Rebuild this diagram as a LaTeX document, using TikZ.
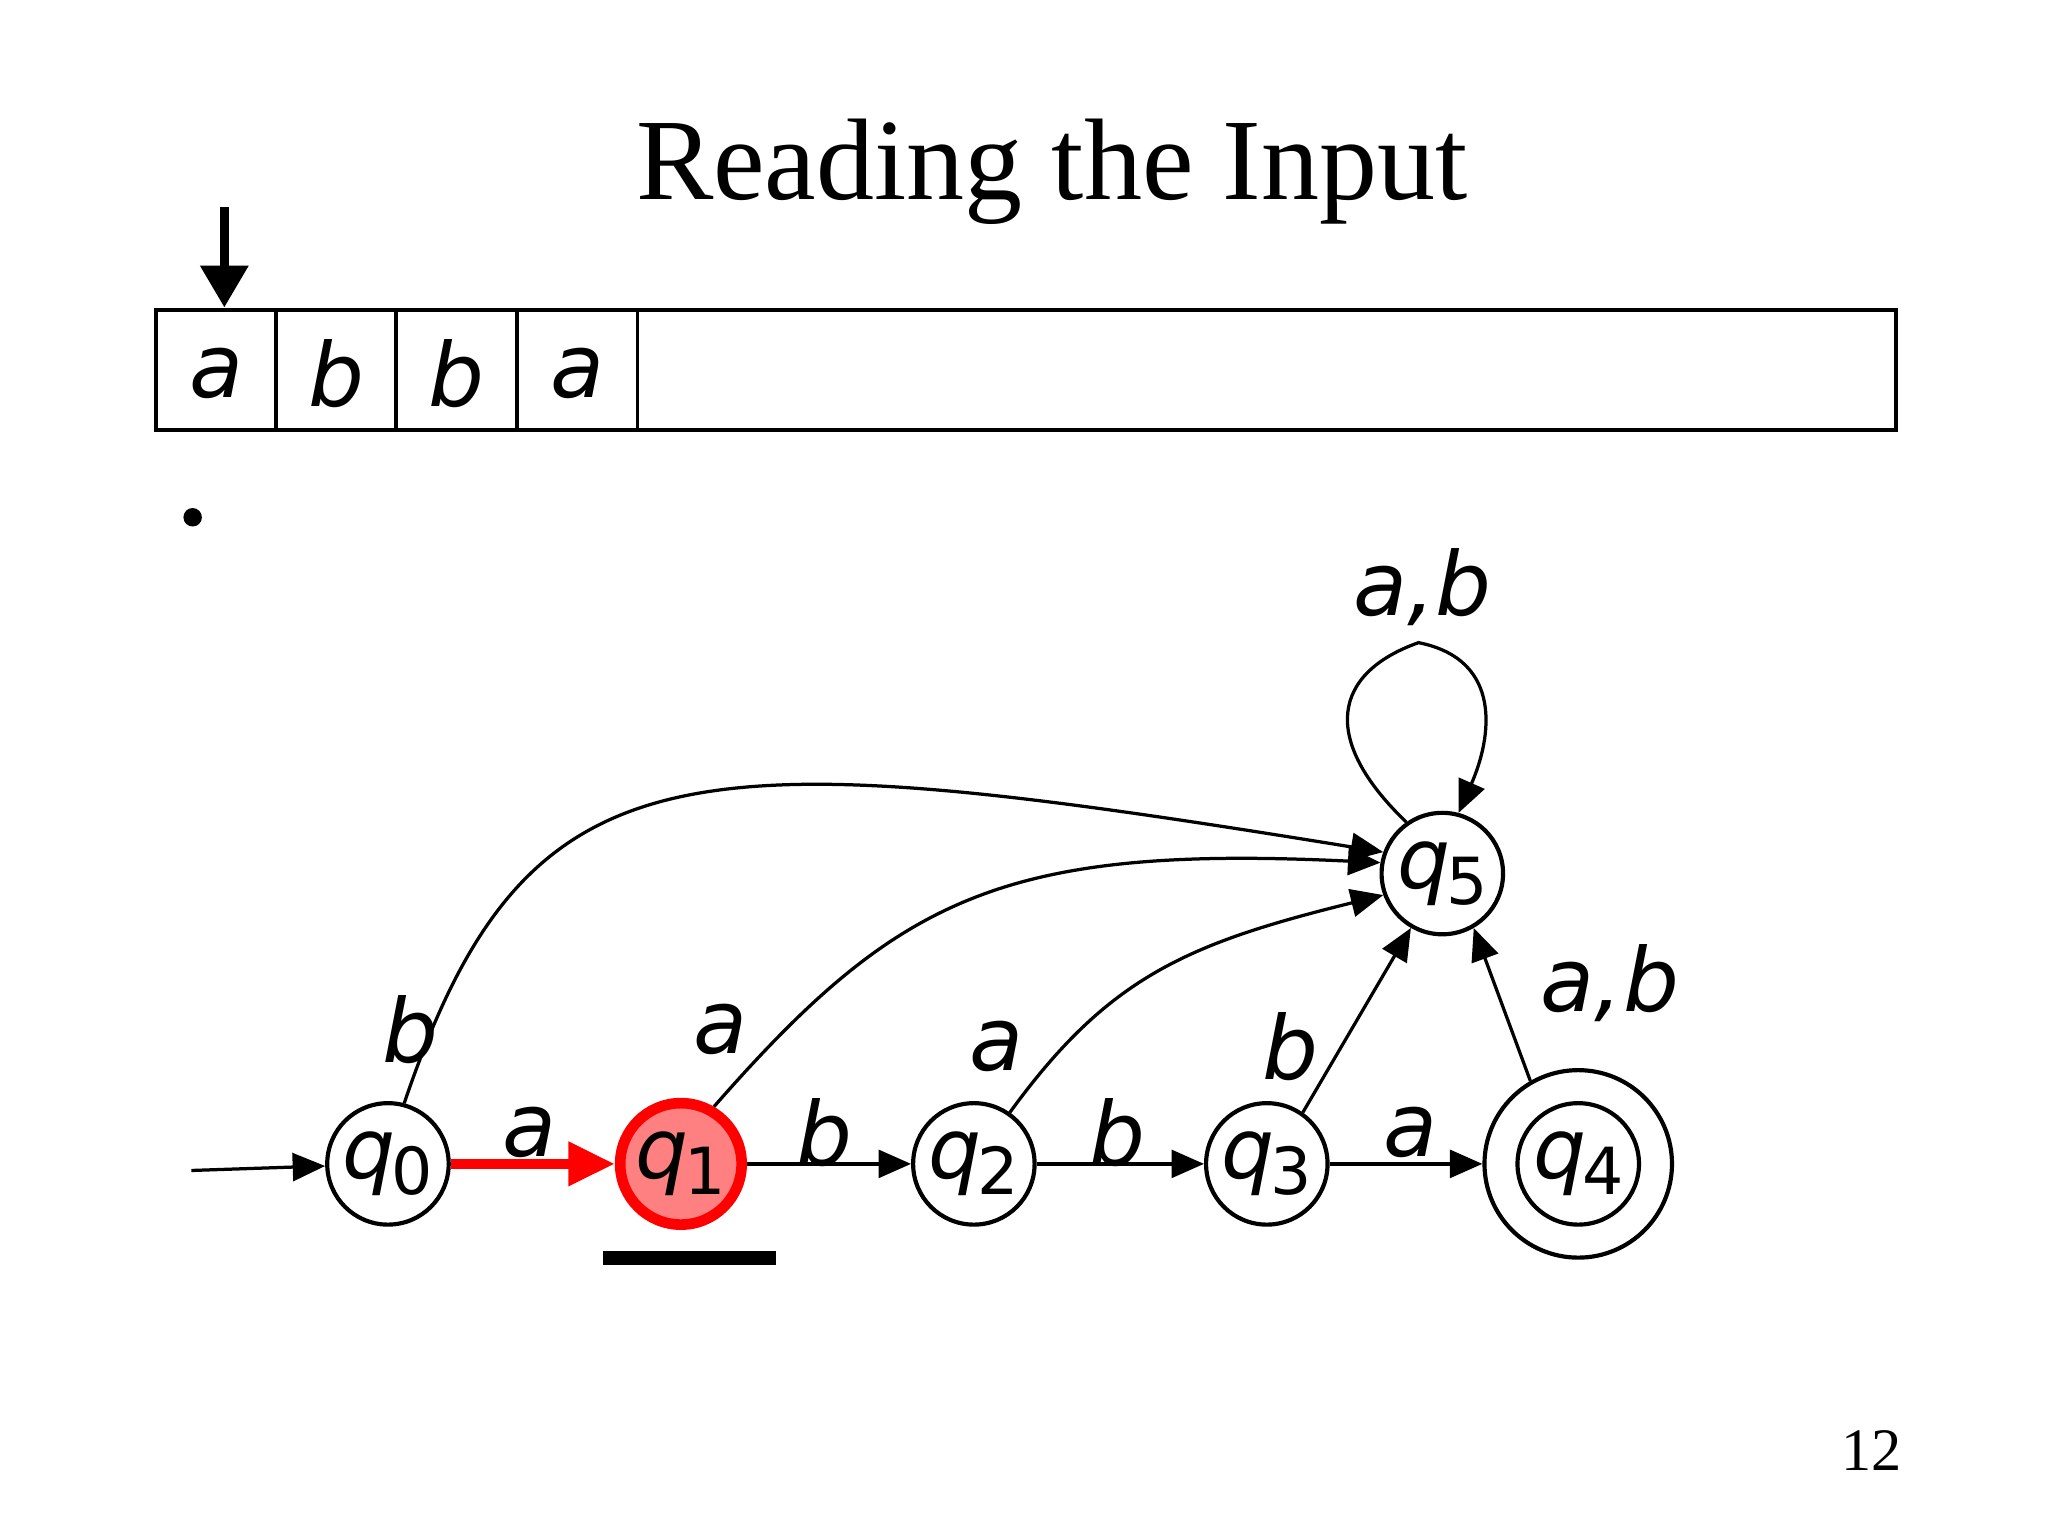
\documentclass[tikz,border=0pt]{standalone}
\usepackage{fontspec}
\setmainfont{Liberation Serif}
\newfontfamily\lblfont{DejaVu Sans}
\usetikzlibrary{arrows.meta}
\newcommand{\stl}[1]{q\kern-0.05em\raisebox{-0.35ex}{\fontsize{14}{16}\selectfont\upshape #1}}
\begin{document}
\begin{tikzpicture}[x=0.01cm,y=-0.01cm,
  lbl/.style={font=\lblfont\itshape\fontsize{19}{21}\selectfont},
  state/.style={circle,draw,line width=0.9pt,minimum size=0.92cm,inner sep=0pt,font=\lblfont\itshape\fontsize{18}{20}\selectfont},
  edge/.style={-{Triangle[length=7pt,width=6pt]},line width=0.7pt}]
\useasboundingbox (0,0) rectangle (1552,1164);
\node[font=\fontsize{25}{30}\selectfont] (title) at (797,130) {Reading the Input};
% tape
\draw[line width=0.8pt] (118,235) rectangle (1437,326);
\foreach \x in {209,300,392,483} \draw[line width=0.8pt] (\x,235) -- (\x,326);
\node[lbl] (t1) at (164,283) {a};
\node[lbl] (t2) at (255,283) {b};
\node[lbl] (t3) at (346,283) {b};
\node[lbl] (t4) at (438,283) {a};
\coordinate (hs) at (170,157);
\coordinate (he) at (170,233);
\draw[-{Triangle[length=9pt,width=10pt]},line width=1.8pt] (hs) -- (he);
\fill (146,392) circle (7);
% states
\node[state] (q0) at (294,882) {\stl{0}};
\node[state,draw=red,line width=2.3pt,fill=red!50] (q1) at (516,882) {\stl{1}};
\node[state] (q2) at (738,882) {\stl{2}};
\node[state] (q3) at (960,882) {\stl{3}};
\node[state] (q4) at (1196,882) {\stl{4}};
\node[circle,draw,line width=0.9pt,minimum size=1.42cm] (q4o) at (1196,882) {};
\node[state] (q5) at (1093,662) {\stl{5}};
\coordinate (st) at (145,887);
\draw[edge] (st) -- (q0);
\draw[-{Triangle[length=10pt,width=9pt]},red,line width=2.3pt] (q0) -- (q1);
\draw[edge] (q1) -- (q2);
\draw[edge] (q2) -- (q3);
\draw[edge] (q3) -- (q4o);
\draw[edge] (q0.75) .. controls (400,560) and (520,560) .. (q5.160);
\draw[edge] (q1.60) .. controls (680,680) and (760,640) .. (q5.170);
\draw[edge] (q2.55) .. controls (840,740) and (900,715) .. (q5.200);
\draw[edge] (q3.55) -- (q5.240);
\draw[edge] (q4o.120) -- (q5.300);
\draw[edge] (q5.125) .. controls (1000,560) and (1010,510) .. (1075,487) .. controls (1140,500) and (1130,560) .. (q5.75);
\draw[line width=3pt] (457,953) -- (588,953);
% labels
\node[lbl] (la1) at (401,858) {a};
\node[lbl] (lb1) at (625,858) {b};
\node[lbl] (lb2) at (847,858) {b};
\node[lbl] (la2) at (1069,858) {a};
\node[lbl] (lb0) at (311,780) {b};
\node[lbl] (la3) at (546,780) {a};
\node[lbl] (la4) at (755,793) {a};
\node[lbl] (lb3) at (978,793) {b};
\node[lbl] (lab4) at (1220,745) {a,b};
\node[lbl] (lab5) at (1078,445) {a,b};
\node[font=\fontsize{13}{16}\selectfont] (pg) at (1418,1099) {12};
\end{tikzpicture}
\end{document}
